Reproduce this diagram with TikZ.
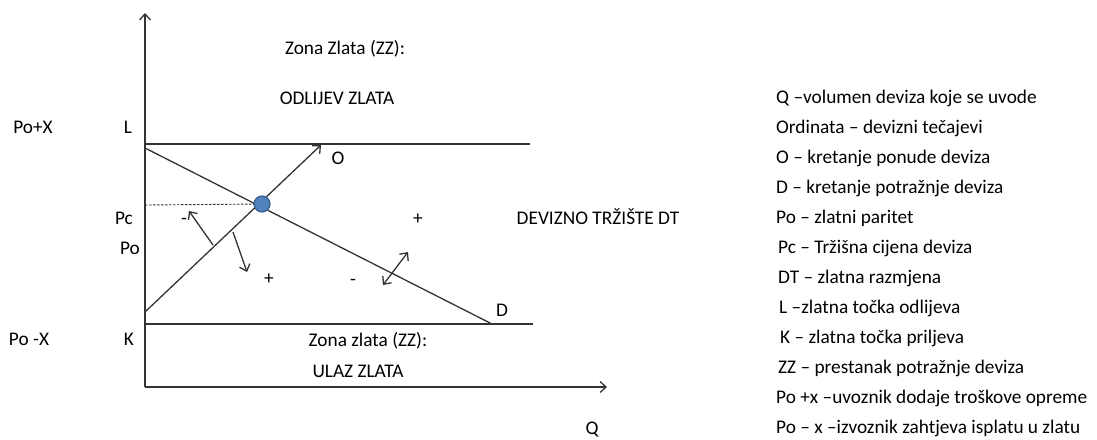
\documentclass[tikz,border=0pt]{standalone}
\usepackage{fontspec}
\setmainfont{Carlito}
\usetikzlibrary{arrows.meta}
\definecolor{dotfill}{RGB}{79,129,189}
\definecolor{dotline}{RGB}{56,93,138}
\tikzset{
  ln/.style={line width=1.3pt,color=black!80},
  arr/.style={ln,-{Straight Barb[length=6pt,width=11pt]}},
  dblarr/.style={ln,{Straight Barb[length=6pt,width=11pt]}-{Straight Barb[length=6pt,width=11pt]}},
  lab/.style={inner sep=0pt,text height=12.4pt,text depth=0pt},
  leg/.style={lab,anchor=west}
}
\begin{document}
\begin{tikzpicture}[x=1pt,y=-1pt,font=\fontsize{19.3}{23}\selectfont]
\useasboundingbox (0,0) rectangle (1097,439);
% axes
\coordinate (origin) at (145,387);
\coordinate (ytop) at (145,13);
\coordinate (xend) at (607,387);
\draw[arr] (origin) -- (ytop);
\draw[arr] (origin) -- (xend);
% gold points
\coordinate (Lleft) at (145,144);
\coordinate (Lright) at (530,144);
\coordinate (Kleft) at (146,324);
\coordinate (Kright) at (533,324);
\draw[ln] (Lleft) -- (Lright);
\draw[ln] (Kleft) -- (Kright);
% supply and demand
\coordinate (Ostart) at (145,312);
\coordinate (Oend) at (321,145);
\coordinate (Dstart) at (145,148);
\coordinate (Dend) at (492,324);
\draw[arr] (Ostart) -- (Oend);
\draw[ln] (Dstart) -- (Dend);
\coordinate (Pcleft) at (145,205);
\coordinate (eq) at (262,204);
\draw[ln,line width=0.9pt,dash pattern=on 2.5pt off 1.5pt] (Pcleft) -- (eq);
\fill[dotfill,draw=dotline,line width=1.2pt] (eq) circle (8);
% movement arrows
\coordinate (a1) at (213,245);
\coordinate (a1t) at (189,211);
\coordinate (a2) at (233,232);
\coordinate (a2t) at (247,272);
\coordinate (a3) at (383,285);
\coordinate (a3t) at (408,252);
\draw[arr] (a1) -- (a1t);
\draw[arr] (a2) -- (a2t);
\draw[dblarr] (a3) -- (a3t);
% labels
\node[lab] (zztop) at (345,48) {Zona Zlata (ZZ):};
\node[lab] (odlijev) at (337,98) {ODLIJEV ZLATA};
\node[lab] (L) at (128,127) {L};
\node[lab] (O) at (338,158) {O};
\node[lab] (PoX) at (33,127) {Po+X};
\node[lab] (Pc) at (124,218) {Pc};
\node[lab] (Po) at (130,248) {Po};
\node[lab] (PomX) at (29,339) {Po -X};
\node[lab] (K) at (129,339) {K};
\node[lab] (D) at (502,310) {D};
\node[lab] (zzbot) at (368,340) {Zona zlata (ZZ):};
\node[lab] (ulaz) at (358,371) {ULAZ ZLATA};
\node[lab] (dt) at (598,218) {DEVIZNO TRŽIŠTE DT};
\node[lab] (Q) at (592,428) {Q};
\node[lab] (m1) at (184,218) {-};
\node[lab] (p1) at (418,218) {+};
\node[lab] (p2) at (269,278) {+};
\node[lab] (m2) at (353,279) {-};
% legend
\foreach \i/\xx/\t in {0/776/Q –volumen deviza koje se uvode,
    1/776/Ordinata – devizni tečajevi,
    2/776/O – kretanje ponude deviza,
    3/776/D – kretanje potražnje deviza,
    4/776/Po – zlatni paritet,
    5/778/Pc – Tržišna cijena deviza,
    6/778/DT – zlatna razmjena,
    7/779/L –zlatna točka odlijeva,
    8/780/K – zlatna točka priljeva,
    9/778/ZZ – prestanak potražnje deviza,
    10/776/Po +x –uvoznik dodaje troškove opreme,
    11/776/Po – x –izvoznik zahtjeva isplatu u zlatu}
  \node[leg] (leg\i) at (\xx,97+30.0*\i) {\t};
\end{tikzpicture}
\end{document}
